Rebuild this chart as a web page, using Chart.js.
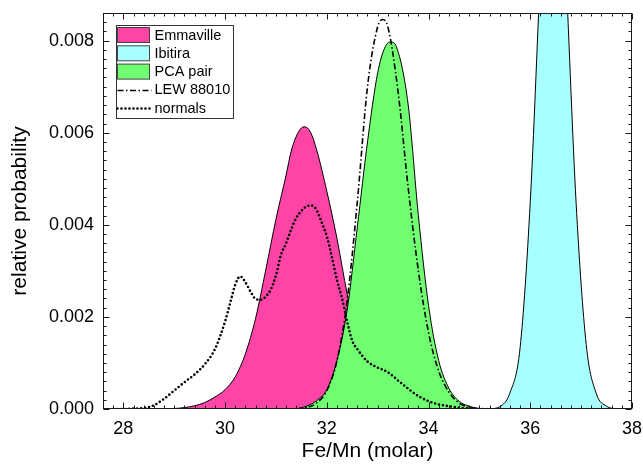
<!DOCTYPE html>
<html lang="en">
<head>
<meta charset="UTF-8">
<title>Fe/Mn (molar)</title>
<style>
    body { margin: 0; background: #fff; }
    canvas { display: block; }
</style>
</head>
<body>
<canvas id="pdfChart" width="643" height="469"></canvas>

<script src="https://cdn.jsdelivr.net/npm/chart.js@4.4.1/dist/chart.umd.min.js"></script>
<script>
    // Fe/Mn probability curves
    var emmX = [28.8, 29.0, 29.2, 29.4, 29.6, 29.8, 30.0, 30.2, 30.4, 30.6, 30.8, 31.0, 31.2, 31.3, 31.45, 31.56, 31.68, 31.8, 32.0, 32.2, 32.4, 32.6, 32.8, 33.0, 33.2, 33.4, 33.6, 33.8];
    var emmY = [0, 0.00001, 0.00003, 0.00007, 0.00014, 0.00026, 0.00042, 0.00070, 0.00120, 0.00197, 0.00302, 0.00412, 0.00508, 0.00560, 0.00603, 0.00613, 0.00601, 0.00563, 0.00473, 0.00370, 0.00250, 0.00150, 0.00082, 0.00040, 0.00018, 0.00007, 0.00002, 0];

    var ibiX = [35.2, 35.4, 35.6, 35.8, 36.0, 36.2, 36.3, 36.45, 36.6, 36.7, 36.9, 37.1, 37.3, 37.5, 37.7];
    var ibiY = [0, 0.00005, 0.00035, 0.00133, 0.0045, 0.0095, 0.0118, 0.0134, 0.0118, 0.0095, 0.0045, 0.0014, 0.00033, 0.00006, 0];

    var pcaX = [31.4, 31.6, 31.8, 32.0, 32.2, 32.4, 32.6, 32.8, 33.0, 33.15, 33.26, 33.37, 33.6, 33.8, 34.0, 34.2, 34.4, 34.6, 34.8, 35.0, 35.2];
    var pcaY = [0, 0.00006, 0.00018, 0.00042, 0.00105, 0.00215, 0.00395, 0.0058, 0.0073, 0.00787, 0.00797, 0.00786, 0.0066, 0.0042, 0.00225, 0.00105, 0.00045, 0.00017, 0.00006, 0.00001, 0];

    var lewX = [31.4, 31.6, 31.8, 32.0, 32.2, 32.4, 32.6, 32.8, 33.0, 33.1, 33.2, 33.4, 33.6, 33.8, 34.0, 34.2, 34.4, 34.6, 34.8, 35.0];
    var lewY = [0, 0.00003, 0.00013, 0.0004, 0.00105, 0.00235, 0.0045, 0.0070, 0.0083, 0.00846, 0.0083, 0.0069, 0.0048, 0.0030, 0.00166, 0.00082, 0.00037, 0.00013, 0.00004, 0];

    var normX = [27.8, 28.0, 28.2, 28.4, 28.6, 28.8, 29.0, 29.2, 29.4, 29.6, 29.8, 30.0,
                 30.1, 30.2, 30.3, 30.4, 30.5, 30.6, 30.7, 30.8, 30.9, 31.0, 31.1, 31.2, 31.3,
                 31.4, 31.5, 31.6, 31.7, 31.8, 31.9, 32.0, 32.1, 32.2, 32.3, 32.4, 32.5, 32.6,
                 32.8, 33.0, 33.2, 33.4, 33.6, 33.8, 34.0, 34.2, 34.4, 34.6, 34.8, 35.0, 35.2];
    var normY = [0, 0, 0.00001, 0.00002, 0.00008, 0.00022, 0.0004, 0.00058, 0.00075, 0.00097, 0.0013, 0.0019,
                 0.0023, 0.0027, 0.00288, 0.00275, 0.00255, 0.00239, 0.00237, 0.00244, 0.0026, 0.0029, 0.00335, 0.0036, 0.0039,
                 0.00415, 0.0043, 0.0044, 0.00442, 0.00432, 0.00405, 0.00375, 0.0033, 0.0028, 0.0024, 0.0019, 0.00148, 0.0013,
                 0.00103, 0.0009, 0.0008, 0.00062, 0.00044, 0.00028, 0.00017, 0.0001, 0.00006, 0.00003, 0.00001, 0, 0];

    var xTicks = [28, 30, 32, 34, 36, 38];
    var yTicks = [0, 0.002, 0.004, 0.006, 0.008];

    var FONT = '"Liberation Sans", Arial, Helvetica, sans-serif';

    function pts(xs, ys) {
        return xs.map(function (x, i) { return { x: x, y: ys[i] }; });
    }

    // boxed ticks on all four sides, pointing inwards
    var plotFrame = {
        id: 'plotFrame',
        afterDatasetsDraw: function (chart) {
            var ctx = chart.ctx, a = chart.chartArea;
            var xs = chart.scales.x, ys = chart.scales.y;
            var L = Math.round(a.left) + 0.5, R = Math.round(a.right) - 0.5;
            var T = Math.round(a.top) + 0.5, B = Math.round(a.bottom) - 0.5;
            ctx.save();
            ctx.strokeStyle = '#1a1a1a';
            ctx.lineWidth = 1;
            ctx.beginPath();
            for (var i = 138; i <= 190; i++) {
                var px = Math.round(xs.getPixelForValue(i / 5)) + 0.5;
                var len = (i % 10 === 0) ? 6 : 3;
                ctx.moveTo(px, B); ctx.lineTo(px, B - len);
                ctx.moveTo(px, T); ctx.lineTo(px, T + len);
            }
            for (var j = 0; j <= 43; j++) {
                var py = Math.round(ys.getPixelForValue(j * 0.0002)) + 0.5;
                var len2 = (j % 10 === 0) ? 6 : 3;
                ctx.moveTo(L, py); ctx.lineTo(L + len2, py);
                ctx.moveTo(R, py); ctx.lineTo(R - len2, py);
            }
            ctx.stroke();
            ctx.strokeRect(L, T, R - L, B - T);
            ctx.restore();
        }
    };

    // framed legend in the upper left corner of the plot
    var boxLegend = {
        id: 'boxLegend',
        afterDraw: function (chart) {
            var ctx = chart.ctx;
            var left = 116, top = 25, w = 117, h = 93;
            ctx.save();
            ctx.fillStyle = '#fff';
            ctx.fillRect(left, top, w, h);
            ctx.strokeStyle = '#333';
            ctx.lineWidth = 1;
            ctx.strokeRect(left + 0.5, top + 0.5, w, h);
            ctx.font = '14.5px ' + FONT;
            ctx.textBaseline = 'middle';
            chart.data.datasets.forEach(function (ds, i) {
                var cy = 35 + i * 18.3;
                if (ds.fill) {
                    ctx.fillStyle = ds.backgroundColor;
                    ctx.fillRect(117.5, cy - 7.5, 32, 15);
                    ctx.strokeStyle = '#444';
                    ctx.strokeRect(117.5, cy - 7.5, 32, 15);
                } else {
                    ctx.strokeStyle = ds.borderColor;
                    ctx.lineWidth = ds.borderWidth;
                    ctx.lineCap = ds.borderCapStyle || 'butt';
                    ctx.setLineDash(ds.borderDash || []);
                    ctx.beginPath();
                    ctx.moveTo(117.5, Math.round(cy) + 0.5);
                    ctx.lineTo(151.5, Math.round(cy) + 0.5);
                    ctx.stroke();
                    ctx.setLineDash([]);
                    ctx.lineCap = 'butt';
                    ctx.lineWidth = 1;
                }
                ctx.fillStyle = '#000';
                ctx.fillText(ds.label, 154.5, cy + 0.5);
            });
            ctx.restore();
        }
    };

    var ctx = document.getElementById('pdfChart').getContext('2d');
    var chart = new Chart(ctx, {
        type: 'line',
        data: {
            datasets: [
                { label: 'Emmaville', data: pts(emmX, emmY), fill: 'origin', backgroundColor: '#ff44a8',
                  borderColor: '#000', borderWidth: 1, order: 5 },
                { label: 'Ibitira', data: pts(ibiX, ibiY), fill: 'origin', backgroundColor: '#a8ffff',
                  borderColor: '#000', borderWidth: 1, order: 4 },
                { label: 'PCA pair', data: pts(pcaX, pcaY), fill: 'origin', backgroundColor: '#70ff70',
                  borderColor: '#000', borderWidth: 1, order: 3 },
                { label: 'LEW 88010', data: pts(lewX, lewY), fill: false, borderColor: '#000',
                  borderWidth: 1.6, borderDash: [6, 2.5, 1.5, 2.5], order: 2 },
                { label: 'normals', data: pts(normX, normY), fill: false, borderColor: '#000',
                  borderWidth: 2.6, borderDash: [0, 4], borderCapStyle: 'round', order: 1 }
            ]
        },
        options: {
            responsive: false,
            animation: false,
            events: [],
            elements: {
                point: { radius: 0 },
                line: { cubicInterpolationMode: 'monotone' }
            },
            layout: { padding: { top: 13, right: 11, left: 0, bottom: 0 } },
            plugins: {
                legend: { display: false },
                tooltip: { enabled: false }
            },
            scales: {
                x: {
                    type: 'linear',
                    min: 27.6,
                    max: 38,
                    grid: { display: false, drawTicks: false },
                    border: { display: false },
                    afterBuildTicks: function (s) { s.ticks = xTicks.map(function (v) { return { value: v }; }); },
                    afterFit: function (s) { s.height = 60; s.paddingLeft = 0; s.paddingRight = 0; },
                    ticks: { color: '#000', font: { family: FONT, size: 18 }, padding: 9, maxRotation: 0,
                             callback: function (v) { return v; } },
                    title: { display: true, text: 'Fe/Mn (molar)', color: '#000',
                             font: { family: FONT, size: 21 }, padding: { top: 0, bottom: 5 } }
                },
                y: {
                    min: 0,
                    max: 0.0086,
                    grid: { display: false, drawTicks: false },
                    border: { display: false },
                    afterBuildTicks: function (s) { s.ticks = yTicks.map(function (v) { return { value: v }; }); },
                    afterFit: function (s) { s.width = 103; s.paddingTop = 0; s.paddingBottom = 0; },
                    ticks: { color: '#000', font: { family: FONT, size: 18 }, padding: 9,
                             callback: function (v) { return v.toFixed(3); } },
                    title: { display: true, text: 'relative probability', color: '#000',
                             font: { family: FONT, size: 21 }, padding: { top: 8, bottom: 0 } }
                }
            }
        },
        plugins: [plotFrame, boxLegend]
    });
</script>
</body>
</html>
